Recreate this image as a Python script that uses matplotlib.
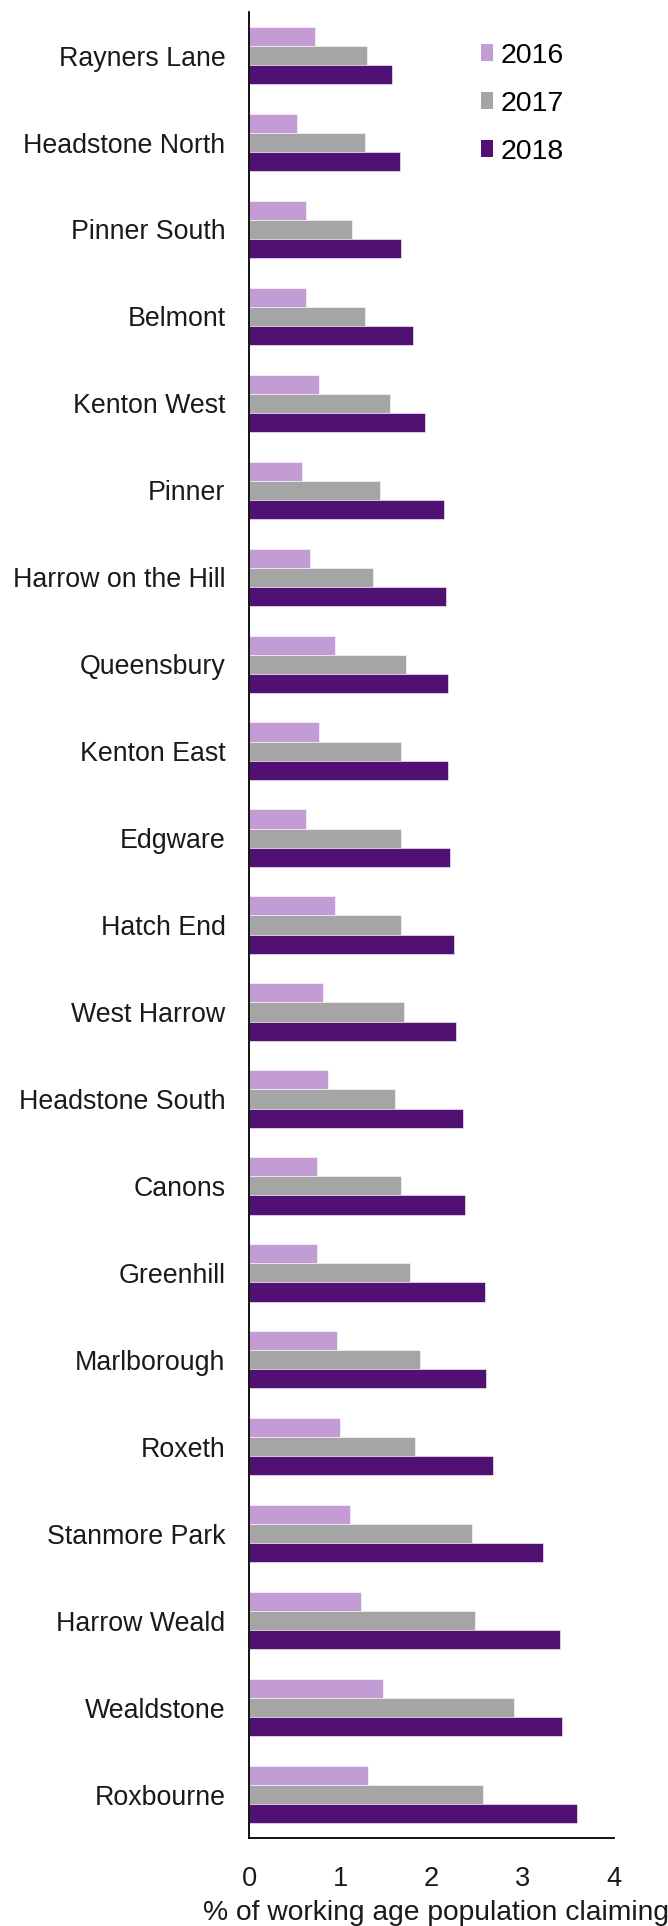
import numpy as np
import matplotlib
matplotlib.use("Agg")
import matplotlib.pyplot as plt
from matplotlib.patches import Patch

plt.rcParams['font.family'] = ['Liberation Sans', 'DejaVu Sans']

wards = ["Rayners Lane", "Headstone North", "Pinner South", "Belmont", "Kenton West",
         "Pinner", "Harrow on the Hill", "Queensbury", "Kenton East", "Edgware",
         "Hatch End", "West Harrow", "Headstone South", "Canons", "Greenhill",
         "Marlborough", "Roxeth", "Stanmore Park", "Harrow Weald", "Wealdstone",
         "Roxbourne"]
v2016 = [0.72, 0.53, 0.62, 0.62, 0.77, 0.58, 0.67, 0.94, 0.77, 0.62, 0.94,
         0.81, 0.87, 0.74, 0.74, 0.96, 1.00, 1.11, 1.23, 1.47, 1.30]
v2017 = [1.29, 1.27, 1.13, 1.27, 1.55, 1.44, 1.36, 1.72, 1.67, 1.66, 1.67,
         1.70, 1.60, 1.66, 1.76, 1.87, 1.82, 2.44, 2.48, 2.90, 2.56]
v2018 = [1.57, 1.65, 1.67, 1.80, 1.93, 2.14, 2.16, 2.18, 2.18, 2.20, 2.25,
         2.27, 2.35, 2.37, 2.59, 2.60, 2.67, 3.22, 3.41, 3.43, 3.60]
years = ["2016", "2017", "2018"]
colours = ["#c39bd5", "#a5a5a5", "#501172"]

fig = plt.figure(figsize=(6.68, 19.26), dpi=100)
ax = fig.add_axes([0.373, 0.0457, 0.546, 0.948])

y = np.arange(len(wards))
h = 0.22
for i, (vals, col) in enumerate(zip([v2016, v2017, v2018], colours)):
    ax.barh(y + (i - 1) * h, vals, height=h, color=col, edgecolor="white", linewidth=0.4)

ax.set_ylim(len(wards) - 0.5, -0.5)
ax.set_xlim(0, 4)
ax.set_xticks([0, 1, 2, 3, 4])
ax.set_yticks(y)
ax.set_yticklabels(wards, fontsize=19.3, color="#1a1a1a")
ax.tick_params(axis="y", length=0, pad=17)
ax.tick_params(axis="x", length=0, pad=20, labelsize=19.6, labelcolor="#1a1a1a")

for s in ["top", "right"]:
    ax.spines[s].set_visible(False)
for s in ["left", "bottom"]:
    ax.spines[s].set_linewidth(1.3)
    ax.spines[s].set_color("black")

handles = [Patch(facecolor=c, edgecolor="none") for c in colours]
fig.legend(handles, years, loc="upper left", bbox_to_anchor=(0.681, 0.991),
           frameon=False, fontsize=20.5, handlelength=0.45, handleheight=0.55,
           handletextpad=0.25, labelspacing=0.77)

fig.text(203 / 668, 1 - 1913 / 1926, "% of working age population claiming",
         fontsize=20.3, color="#1a1a1a", ha="left", va="center")

fig.savefig("out.png", dpi=100)
